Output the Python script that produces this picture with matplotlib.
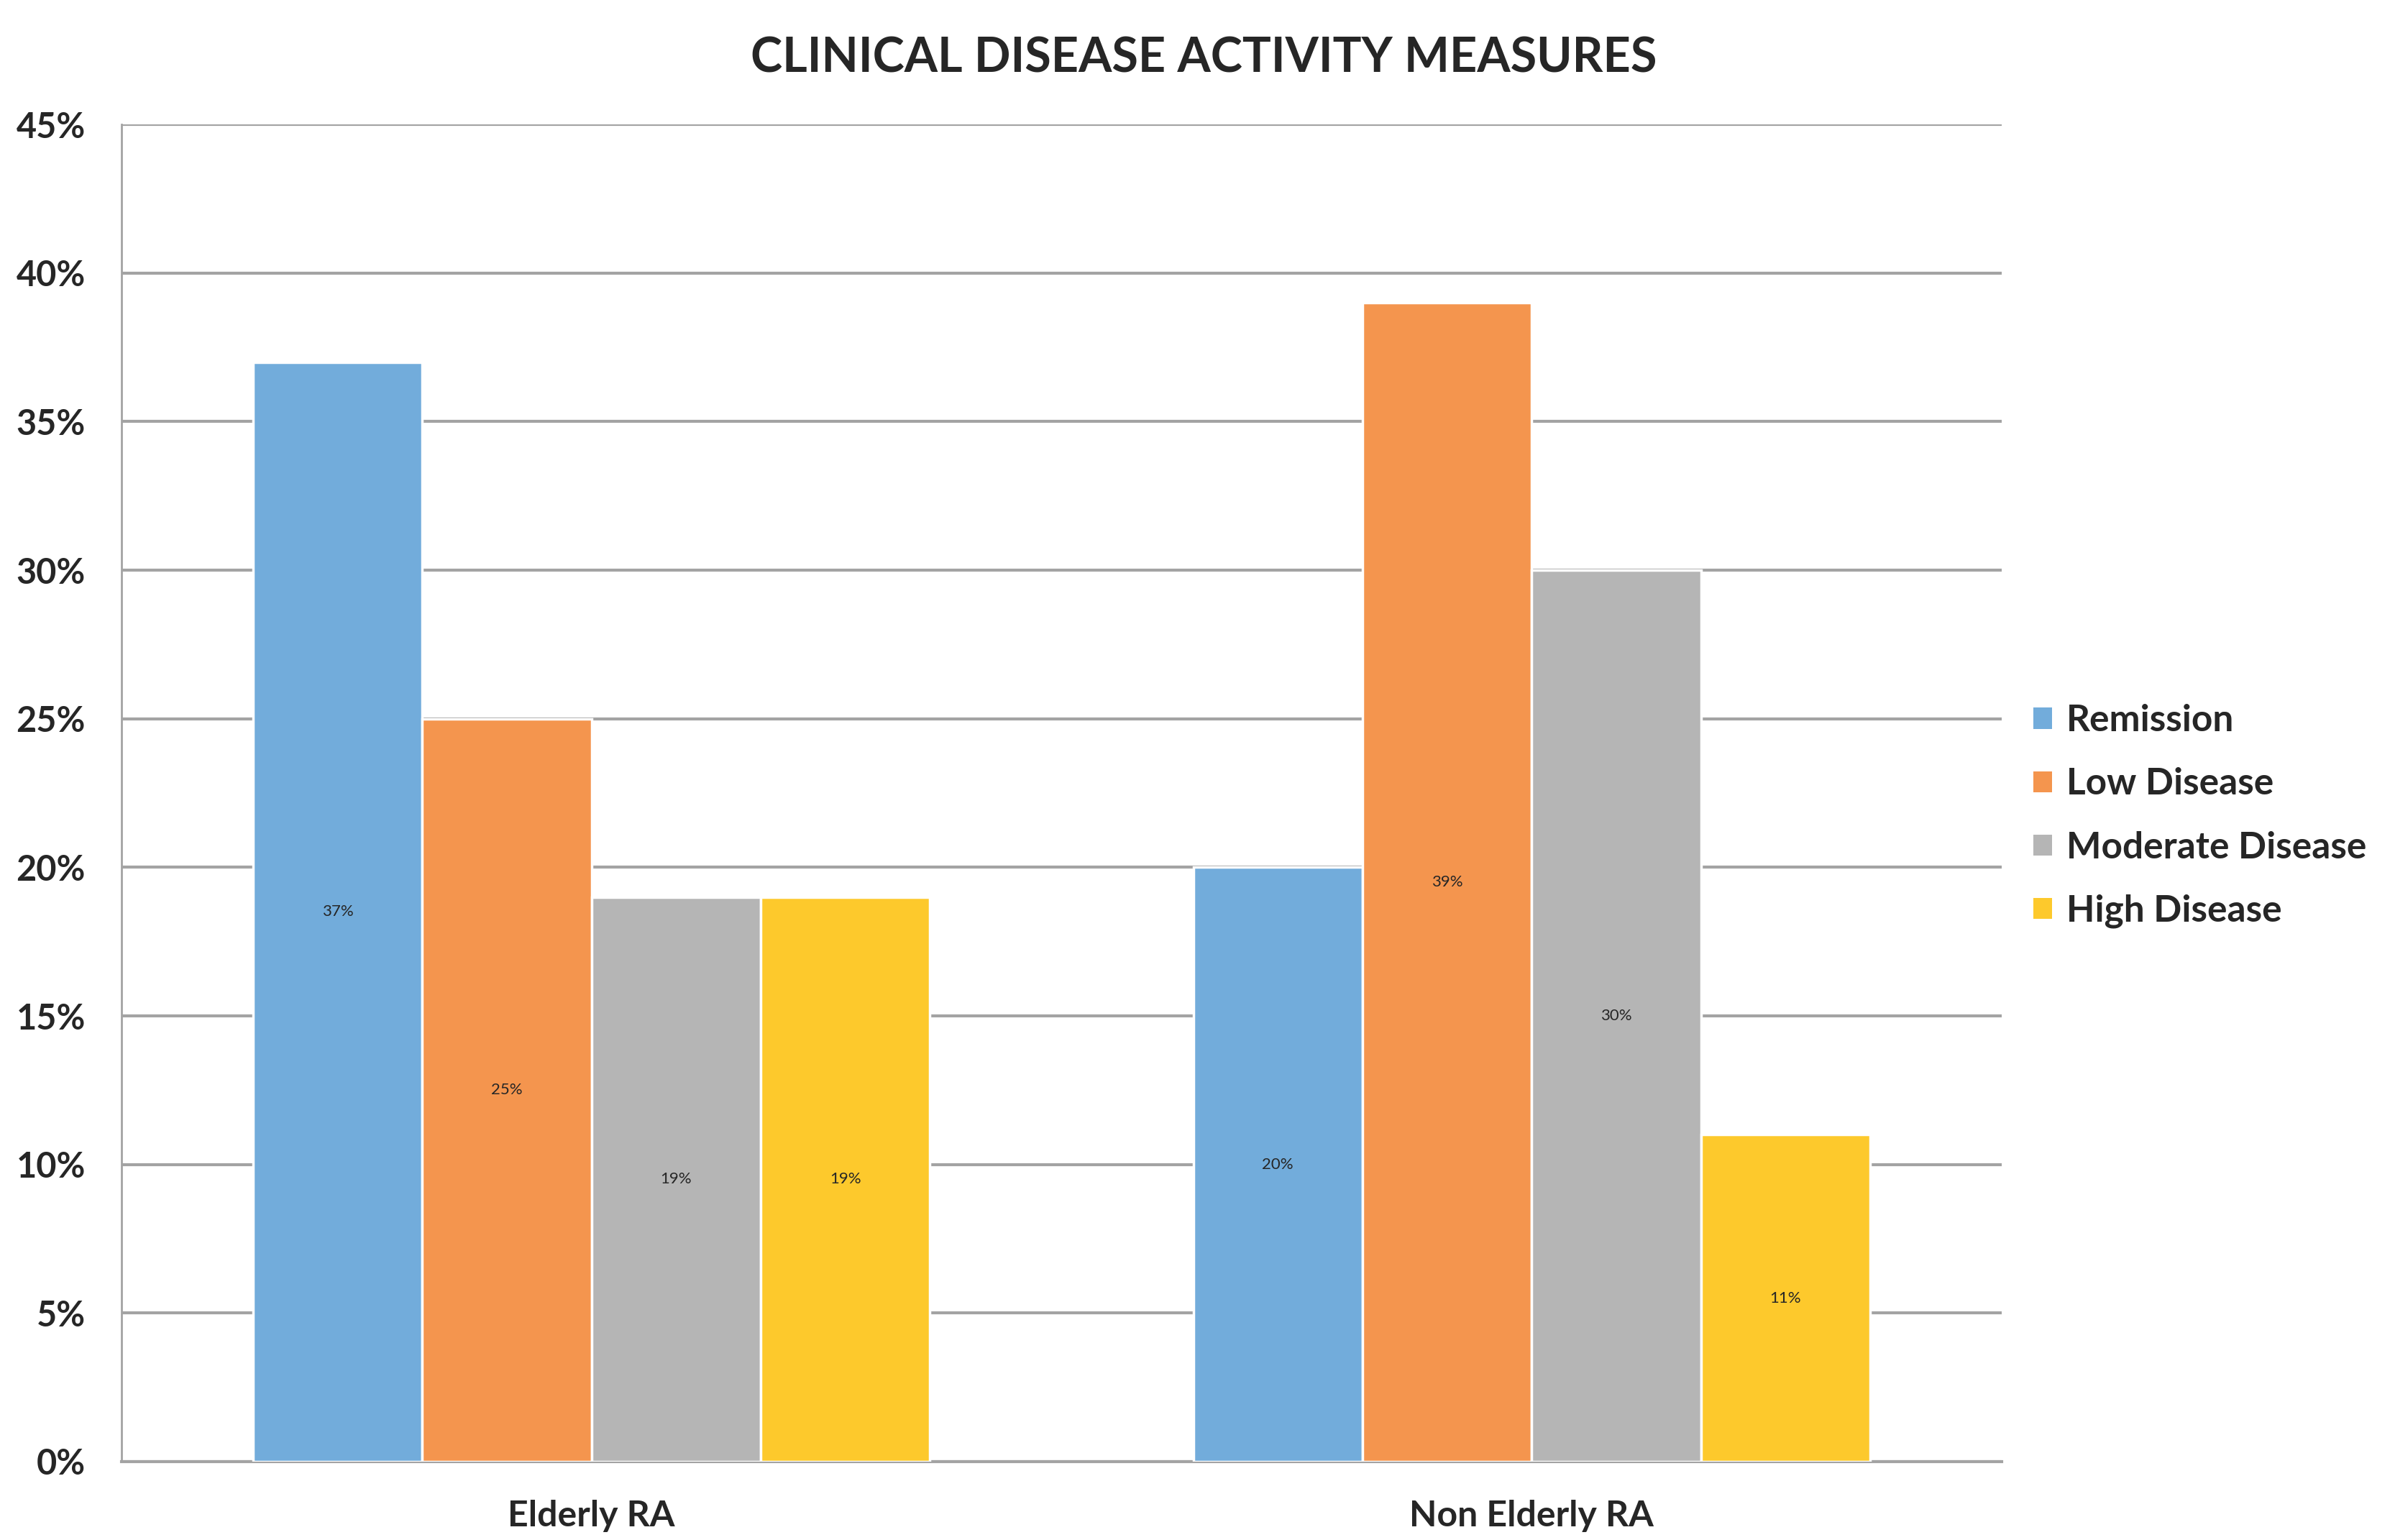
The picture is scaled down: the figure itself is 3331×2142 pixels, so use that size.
import numpy as np
import matplotlib
matplotlib.use('Agg')
import matplotlib.pyplot as plt
from matplotlib.patches import Patch

plt.rcParams['font.family'] = ['Lato', 'DejaVu Sans']

categories = ['Elderly RA', 'Non Elderly RA']
series = ['Remission', 'Low Disease', 'Moderate Disease', 'High Disease']
values = {
    'Remission': [37, 20],
    'Low Disease': [25, 39],
    'Moderate Disease': [19, 30],
    'High Disease': [19, 11],
}
colors = ['#72acdb', '#f4954e', '#b5b5b5', '#fdc92c']
yticks = [0, 5, 10, 15, 20, 25, 30, 35, 40, 45]

text_col = '#262626'
grid_col = '#a3a3a3'

fig = plt.figure(figsize=(33.31, 21.42), dpi=100)
ax = fig.add_axes([0.0507, 0.0509, 0.7851, 0.8683])

x = np.arange(len(categories))
w = 0.18
for i, (name, col) in enumerate(zip(series, colors)):
    off = (i - 1.5) * w
    bars = ax.bar(x + off, values[name], width=w, color=col,
                  edgecolor='white', linewidth=2.5, zorder=3)
    for b, v in zip(bars, values[name]):
        ax.text(b.get_x() + b.get_width() / 2, v / 2, f'{v}%',
                ha='center', va='center', fontsize=16, color=text_col,
                zorder=4)

ax.set_xlim(-0.5, 1.5)
ax.set_ylim(0, 45)
ax.set_yticks(yticks)
ax.set_yticklabels([f'{t}%' for t in yticks], fontsize=35,
                   fontweight='bold', color=text_col)
ax.set_xticks(x)
ax.set_xticklabels(categories, fontsize=36, fontweight='bold', color=text_col)
ax.tick_params(axis='y', length=0, pad=36)
ax.tick_params(axis='x', length=0, pad=38)

ax.yaxis.grid(True, color=grid_col, linewidth=3, zorder=0)
ax.set_axisbelow(True)
for s in ['top', 'right']:
    ax.spines[s].set_visible(False)
ax.spines['left'].set_color(grid_col)
ax.spines['left'].set_linewidth(2)
ax.spines['bottom'].set_color(grid_col)
ax.spines['bottom'].set_linewidth(3)

fig.text(0.5025, 0.962, 'CLINICAL DISEASE ACTIVITY MEASURES', ha='center',
         va='center', fontsize=48, fontweight='bold', color=text_col)

handles = [Patch(facecolor=c, edgecolor='none') for c in colors]
leg = fig.legend(handles, series, loc='center left',
                 bbox_to_anchor=(0.849, 0.47), frameon=False,
                 prop={'size': 37, 'weight': 'bold'},
                 handlelength=0.5, handleheight=0.5, handletextpad=0.4,
                 labelspacing=0.8, borderpad=0, borderaxespad=0)
for t in leg.get_texts():
    t.set_color(text_col)

fig.savefig('out.png', dpi=100)
